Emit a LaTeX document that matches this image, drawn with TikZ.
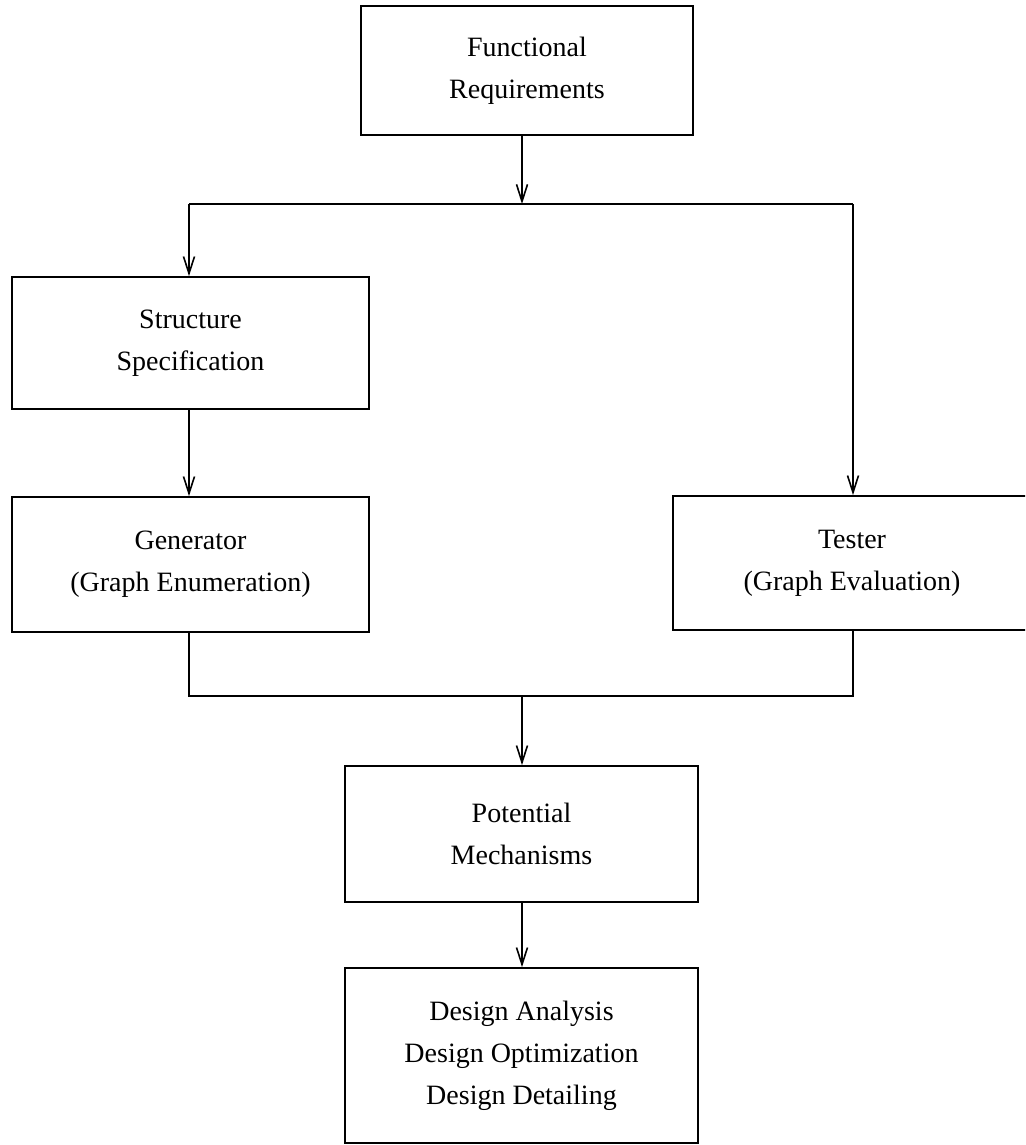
\documentclass[tikz,border=0pt]{standalone}
\usepackage{fontspec}
\setmainfont{Liberation Serif}
\usetikzlibrary{arrows.meta}
\begin{document}
\begin{tikzpicture}[x=1pt,y=-1pt,
  box/.style={draw,line width=1.8pt,inner sep=0pt,align=center,
    font=\fontsize{28}{42}\selectfont},
  link/.style={line width=1.8pt},
  arr/.style={link,-{Straight Barb[length=17pt,width=11pt,line width=1.6pt]}}]
\useasboundingbox (0,0) rectangle (1025,1145);
\clip (0,0) rectangle (1025,1145);
\node[box,minimum width=332pt,minimum height=129pt] (b1) at (527,70.5) {Functional\\Requirements};
\node[box,minimum width=357pt,minimum height=132pt] (b2) at (190.5,343) {Structure\\Specification};
\node[box,minimum width=357pt,minimum height=135pt] (b3) at (190.5,564.5) {Generator\\(Graph Enumeration)};
\node[box,minimum width=358pt,minimum height=134pt] (b4) at (852,563) {Tester\\(Graph Evaluation)};
\node[box,minimum width=353pt,minimum height=136pt] (b5) at (521.5,834) {Potential\\Mechanisms};
\node[box,minimum width=353pt,minimum height=175pt] (b6) at (521.5,1055.5) {Design Analysis\\Design Optimization\\Design Detailing};
\coordinate (j1) at (522,204);
\coordinate (jl) at (189,204);
\coordinate (jr) at (853,204);
\coordinate (k1) at (522,696);
\coordinate (kl) at (189,696);
\coordinate (kr) at (853,696);
\draw[arr] (j1 |- b1.south) -- (j1);
\draw[link] (jl) -- (jr);
\draw[arr] (jl) -- (jl |- b2.north);
\draw[arr] (jr) -- (jr |- b4.north);
\draw[arr] (jl |- b2.south) -- (jl |- b3.north);
\draw[link] (kl |- b3.south) -- (kl) -- (kr) -- (kr |- b4.south);
\draw[arr] (k1) -- (k1 |- b5.north);
\draw[arr] (k1 |- b5.south) -- (k1 |- b6.north);
\end{tikzpicture}
\end{document}
